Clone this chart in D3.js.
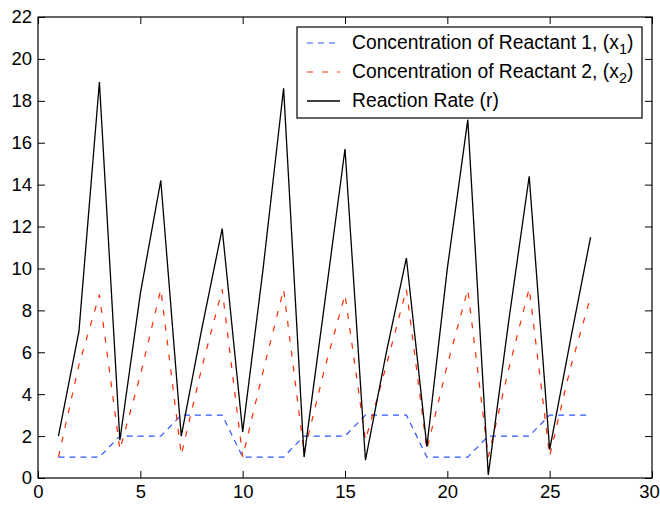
<!DOCTYPE html>
<html>
<head>
<meta charset="utf-8">
<script src="https://cdn.jsdelivr.net/npm/d3@7"></script>
<style>
  body { margin: 0; background: #fff; }
  text { font-family: "Liberation Sans", Arial, sans-serif; }
</style>
</head>
<body>
<svg id="chart" width="660" height="506"></svg>
<script>
// time steps
const steps = d3.range(1, 28)
// concentration of reactant 1 (x1)
const x1 = [1, 1, 1, 2, 2, 2, 3, 3, 3, 1, 1, 1, 2, 2, 2, 3, 3, 3, 1, 1, 1, 2, 2, 2, 3, 3, 3]
// concentration of reactant 2 (x2)
const x2 = [1.0, 5.4, 8.75, 1.35, 4.9, 9.0, 1.1, 5.25, 9.0, 1.0, 5.1, 9.0, 1.2, 5.2, 8.75, 1.8, 5.3, 9.0,
  1.35, 5.4, 9.0, 1.0, 5.2, 9.05, 1.05, 5.2, 8.65]
// reaction rate (r)
const rate = [2.0, 7.0, 18.9, 1.8, 8.8, 14.2, 2.0, 7.1, 11.9, 2.2, 10.0, 18.6, 1.0, 8.3, 15.7, 0.85, 5.9, 10.5,
  1.5, 10.0, 17.1, 0.15, 7.5, 14.4, 1.35, 6.5, 11.5]

const xTicks = [0, 5, 10, 15, 20, 25, 30]
const yTicks = [0, 2, 4, 6, 8, 10, 12, 14, 16, 18, 20, 22]

const margin = { top: 17, right: 8, bottom: 28, left: 38 },
  width = 660 - margin.left - margin.right,
  height = 506 - margin.top - margin.bottom

const svg = d3.select("#chart")
  .append("g")
  .attr("transform", "translate(" + margin.left + "," + margin.top + ")")

const x = d3.scaleLinear().domain([0, 30]).range([0, width])
const y = d3.scaleLinear().domain([0, 22]).range([height, 0])

// axes, ticks pointing inward like the original
const styleAxis = g => {
  g.select(".domain").remove()
  g.selectAll(".tick line").attr("stroke", "#000")
  g.selectAll(".tick text").attr("fill", "#000").attr("font-size", 18.5)
}
const xAxis = svg.append("g")
  .attr("transform", "translate(0," + height + ")")
  .call(d3.axisBottom(x).tickValues(xTicks).tickSizeInner(-7).tickSizeOuter(0).tickPadding(7))
  .call(styleAxis)
// last label sits at the window edge
xAxis.selectAll(".tick text").filter(d => d === 30).attr("dx", -3)

svg.append("g")
  .call(d3.axisTop(x).tickValues(xTicks).tickSizeInner(-7).tickSizeOuter(0).tickFormat(""))
  .call(styleAxis)
svg.append("g")
  .call(d3.axisLeft(y).tickValues(yTicks).tickSizeInner(-7).tickSizeOuter(0).tickPadding(6))
  .call(styleAxis)
svg.append("g")
  .attr("transform", "translate(" + width + ",0)")
  .call(d3.axisRight(y).tickValues(yTicks).tickSizeInner(-7).tickSizeOuter(0).tickFormat(""))
  .call(styleAxis)

svg.append("rect")
  .attr("width", width).attr("height", height)
  .attr("fill", "none").attr("stroke", "#000").attr("stroke-width", 1.2)

const series = [
  { name: "x1", values: x1, color: "#2a55ff", dash: "6,5", width: 1.2 },
  { name: "x2", values: x2, color: "#ff2a00", dash: "6,9", width: 1.2 },
  { name: "r", values: rate, color: "#000", dash: null, width: 1.3 }
]

const line = d3.line()
  .x(d => x(d[0]))
  .y(d => y(d[1]))

series.forEach(s => {
  svg.append("path")
    .datum(steps.map((t, i) => [t, s.values[i]]))
    .attr("fill", "none")
    .attr("stroke", s.color)
    .attr("stroke-width", s.width)
    .attr("stroke-dasharray", s.dash)
    .attr("d", line)
})

// legend
const lx = 297 - margin.left, ly = 27 - margin.top
const legend = svg.append("g").attr("transform", "translate(" + lx + "," + ly + ")")
legend.append("rect")
  .attr("width", 345).attr("height", 91)
  .attr("fill", "#fff").attr("stroke", "#000").attr("stroke-width", 1.2)

const labels = [
  { main: "Concentration of Reactant 1, (x", sub: "1", tail: ")" },
  { main: "Concentration of Reactant 2, (x", sub: "2", tail: ")" },
  { main: "Reaction Rate (r)", sub: null, tail: null }
]

labels.forEach((l, i) => {
  const s = series[i]
  const rowY = 16 + i * 29
  legend.append("line")
    .attr("x1", 10).attr("x2", 43)
    .attr("y1", rowY).attr("y2", rowY)
    .attr("stroke", s.color)
    .attr("stroke-width", s.width)
    .attr("stroke-dasharray", s.dash)
  const t = legend.append("text")
    .attr("x", 55).attr("y", rowY + 6)
    .attr("font-size", 19.3)
    .attr("fill", "#000")
  t.append("tspan").text(l.main)
  if (l.sub) {
    t.append("tspan").attr("dy", 5).attr("font-size", 14.5).text(l.sub)
    t.append("tspan").attr("dy", -5).text(l.tail)
  }
})
</script>
</body>
</html>
